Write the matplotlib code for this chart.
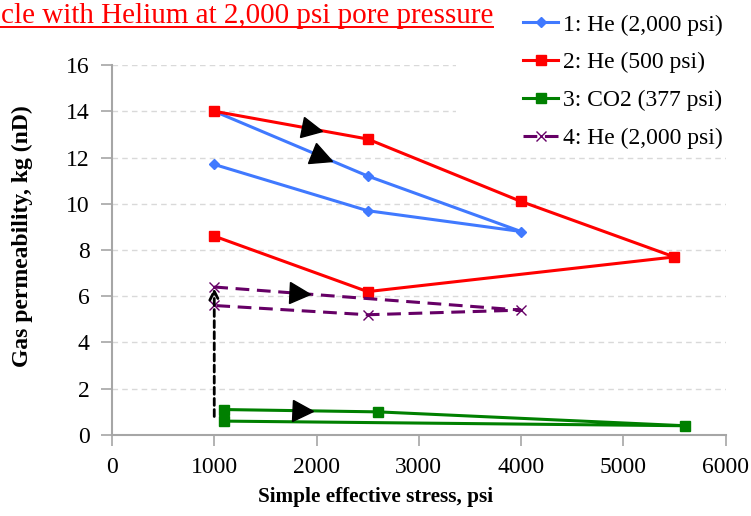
import numpy as np
import matplotlib.pyplot as plt
from matplotlib.markers import MarkerStyle
from matplotlib.transforms import Affine2D
from matplotlib.patches import Rectangle
from matplotlib.lines import Line2D

plt.rcParams['font.family'] = ['Liberation Serif', 'DejaVu Serif']

# stress path for each run (psi) and measured permeability (nD)
he1_x = [1000, 2500, 4000, 2500, 1000]
he1_y = [14.0, 11.2, 8.8, 9.7, 11.7]
he2_x = [1000, 2500, 4000, 5500, 2500, 1000]
he2_y = [14.0, 12.8, 10.1, 7.7, 6.2, 8.6]
co2_x = [1100, 2600, 5600, 1100]
co2_y = [1.1, 1.0, 0.4, 0.6]
he4_x = [1000, 4000, 2500, 1000]
he4_y = [6.4, 5.4, 5.2, 5.6]

labels = ["1: He (2,000 psi)", "2: He (500 psi)", "3: CO2 (377 psi)", "4: He (2,000 psi)"]

# jump from the CO2 run back up to helium
jump_x = 1000
jump_y = [0.8, 6.4]

fig = plt.figure(figsize=(7.51, 5.16), dpi=100)
ax = fig.add_axes([112 / 751, 0.157, 613.5 / 751, 0.717])

ax.plot(he1_x, he1_y, color="#4079FF", lw=2.2, marker="D", ms=5.5, label=labels[0], zorder=3)
ax.plot(he2_x, he2_y, color="#FF0000", lw=2.2, marker="s", ms=7.5, label=labels[1], zorder=3)
ax.plot(co2_x, co2_y, color="#008000", lw=2.2, marker="s", ms=7.5, label=labels[2], zorder=3)
ax.plot(he4_x, he4_y, color="#660066", lw=2.2, ls=(0, (4.5, 2.5)), marker="x", ms=7,
        mew=1.0, label=labels[3], zorder=3)

ax.annotate("", xy=(jump_x, jump_y[1] - 0.05), xytext=(jump_x, jump_y[0]),
            arrowprops=dict(arrowstyle="->", color="black", lw=2.0, ls=(0, (2.5, 1.5)),
                            mutation_scale=16, shrinkA=0, shrinkB=0), zorder=4)

ax.set_xlim(0, 6000)
ax.set_ylim(0, 16)
ax.set_xticks(np.arange(0, 6001, 1000))
ax.set_yticks(np.arange(0, 17, 2))
ax.tick_params(axis="both", labelsize=17, length=8, width=1.2, color="#A6A6A6", pad=8)
ax.tick_params(axis="x", pad=8)
for side in ["top", "right"]:
    ax.spines[side].set_visible(False)
for side in ["left", "bottom"]:
    ax.spines[side].set_color("#A6A6A6")
    ax.spines[side].set_linewidth(1.5)
ax.set_axisbelow(True)
ax.yaxis.grid(True, color="#D9D9D9", ls=(0, (4, 3)), lw=1.0)

# direction triangles along the first segment of each loop
def direction_arrow(xs, ys, i, frac):
    x0, y0 = xs[i], ys[i]
    x1, y1 = xs[i + 1], ys[i + 1]
    p0 = ax.transData.transform((x0, y0))
    p1 = ax.transData.transform((x1, y1))
    ang = np.degrees(np.arctan2(p1[1] - p0[1], p1[0] - p0[0]))
    m = MarkerStyle(">", transform=Affine2D().rotate_deg(ang))
    ax.plot(x0 + frac * (x1 - x0), y0 + frac * (y1 - y0), marker=m, ms=15,
            color="black", lw=0, zorder=5)

direction_arrow(he2_x, he2_y, 0, 0.64)
direction_arrow(he1_x, he1_y, 0, 0.70)
direction_arrow(he4_x, he4_y, 0, 0.28)
direction_arrow(co2_x, co2_y, 0, 0.51)

# white area behind the legend
ax.add_patch(Rectangle((456 / 751, 1 - 150 / 516), 1, 1, transform=fig.transFigure,
                       facecolor="white", edgecolor="none", zorder=1, clip_on=False))

leg = fig.legend(loc="upper left", bbox_to_anchor=(523 / 751, 1 - 14 / 516), frameon=False,
                 fontsize=17, handlelength=1.5, handletextpad=0.2, labelspacing=0.69,
                 borderpad=0, borderaxespad=0)

fig.text(375 / 751, 1 - 497 / 516, "Simple effective stress, psi", ha="center", va="center",
         fontsize=15.3, fontweight="bold")
fig.text(22 / 751, 1 - 236 / 516, "Gas permeability, kg (nD)", ha="center", va="center",
         rotation=90, fontsize=17, fontweight="bold")

fig.text(493 / 751, 1 - 23 / 516, "cle with Helium at 2,000 psi pore pressure", ha="right",
         va="baseline", fontsize=21, color="#FF0000")
fig.add_artist(Line2D([0, 493 / 751], [1 - 27 / 516, 1 - 27 / 516], color="#FF0000",
                      lw=1.4, transform=fig.transFigure))

fig.savefig("out.png", dpi=100)
